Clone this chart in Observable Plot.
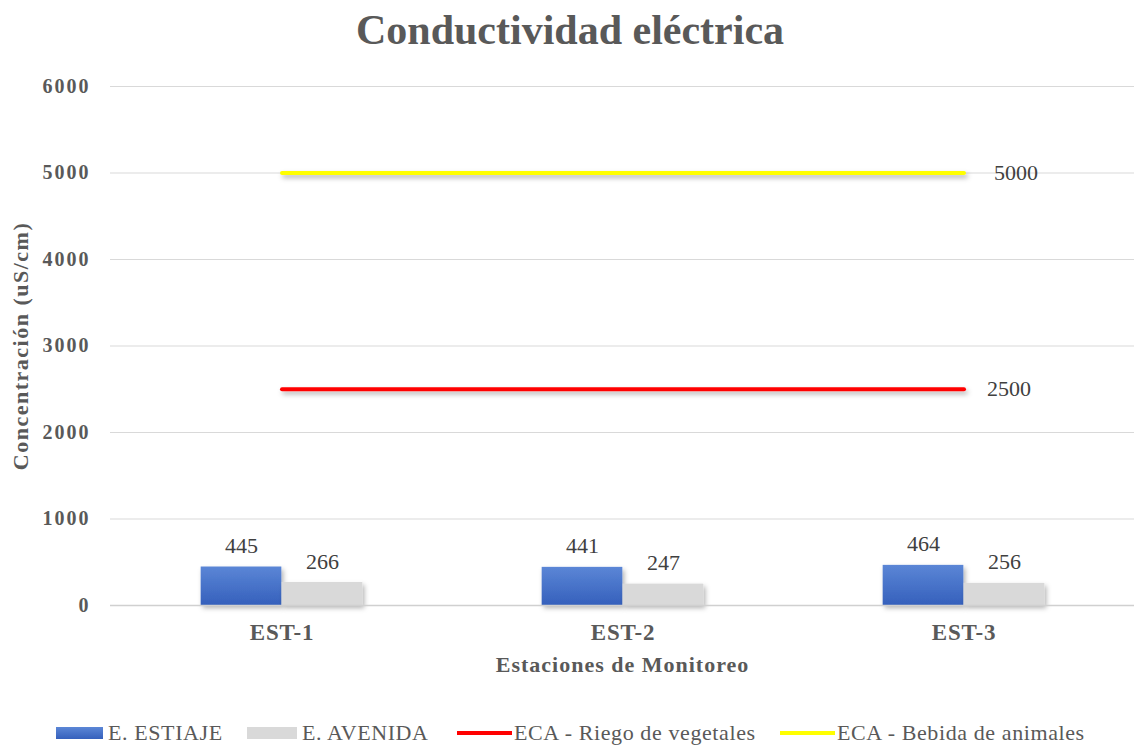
<!DOCTYPE html>
<html><head><meta charset="utf-8">
<script src="https://cdn.jsdelivr.net/npm/d3@7"></script>
<script src="https://cdn.jsdelivr.net/npm/@observablehq/plot@0.6"></script>
<style>
body{margin:0;background:#fff;font-family:"Liberation Serif","Times New Roman",serif;width:1134px;height:745px;overflow:hidden;}
#title{height:62px;line-height:60px;text-align:center;font-size:42px;font-weight:bold;color:#595959;padding-left:6px;}
#chart svg{display:block;}
#chart svg .ytick text{letter-spacing:2px;}
#chart svg .ylabel text{letter-spacing:1.5px;}
#chart svg .xlabel text{letter-spacing:1px;}
#chart svg .xtick text{letter-spacing:0.8px;}
#legend{position:relative;height:43px;font-size:22px;color:#595959;font-family:"Liberation Serif","Times New Roman",serif;}
#legend .sw{position:absolute;}
#legend .lt{position:absolute;top:20px;line-height:22px;white-space:nowrap;letter-spacing:0.6px;}
</style></head><body>
<div id="title">Conductividad eléctrica</div>
<div id="chart"></div>
<div id="legend"></div>
<script>
const stations = ["EST-1", "EST-2", "EST-3"];
const estiaje = [445, 441, 464];
const avenida = [266, 247, 256];
const riego = [2500, 2500, 2500];
const bebida = [5000, 5000, 5000];
const seriesNames = ["E. ESTIAJE", "E. AVENIDA", "ECA - Riego de vegetales", "ECA - Bebida de animales"];
const seriesColors = ["#4472C4", "#D9D9D9", "#FF0000", "#FFFF00"];
const yTicks = [0, 1000, 2000, 3000, 4000, 5000, 6000];

const bars1 = stations.map((s, i) => ({station: s, value: estiaje[i]}));
const bars2 = stations.map((s, i) => ({station: s, value: avenida[i]}));
const line1 = stations.map((s, i) => ({station: s, value: riego[i]}));
const line2 = stations.map((s, i) => ({station: s, value: bebida[i]}));

const W = 1134, H = 640, ML = 110, MR = 0;
const bw = (W - ML - MR) / stations.length;
const barW = 81;
const half = bw / 2;

const chart = Plot.plot({
  width: W,
  height: H,
  marginLeft: ML,
  marginRight: MR,
  marginTop: 24,
  marginBottom: 97,
  style: {fontFamily: "'Liberation Serif','Times New Roman',serif", fontWeight: "bold", color: "#595959", background: "white"},
  x: {domain: stations, padding: 0, label: null},
  y: {domain: [0, 6000], ticks: yTicks, label: null},
  marks: [
    Plot.gridY(yTicks, {stroke: "#d9d9d9", strokeOpacity: 1}),
    Plot.axisY(yTicks, {tickSize: 0, tickPadding: 20, fontSize: 20, fill: "#595959",
      tickFormat: d => String(d), label: null, className: "ytick"}),
    Plot.text(["Concentración (uS/cm)"], {frameAnchor: "left", textAnchor: "middle", dx: -90, rotate: -90,
      fontSize: 22, fontWeight: "bold", fill: "#595959", className: "ylabel"}),
    Plot.axisX({tickSize: 0, tickPadding: 18, fontSize: 23, fill: "#595959", label: null, className: "xtick"}),
    Plot.text(["Estaciones de Monitoreo"], {frameAnchor: "bottom", dy: 66,
      fontSize: 22, fontWeight: "bold", fill: "#595959", className: "xlabel"}),
    Plot.barY(bars1, {x: "station", y: "value", fill: "url(#gblue)",
      insetLeft: half - barW, insetRight: half, className: "shadowed"}),
    Plot.barY(bars2, {x: "station", y: "value", fill: seriesColors[1],
      insetLeft: half, insetRight: half - barW, className: "shadowed"}),
    Plot.ruleY([0], {stroke: "#d0d0d0", strokeWidth: 1.5}),
    Plot.text(bars1, {x: "station", y: "value", text: d => String(d.value), dx: -barW / 2, dy: -21,
      fontSize: 22, fontWeight: "normal", fill: "#404040"}),
    Plot.text(bars2, {x: "station", y: "value", text: d => String(d.value), dx: barW / 2, dy: -21,
      fontSize: 22, fontWeight: "normal", fill: "#404040"}),
    Plot.lineY(line1, {x: "station", y: "value", stroke: seriesColors[2], strokeWidth: 4, className: "shadowed"}),
    Plot.lineY(line2, {x: "station", y: "value", stroke: seriesColors[3], strokeWidth: 4, className: "shadowed"}),
    Plot.text(line1.slice(-1), {x: "station", y: "value", text: d => String(d.value), dx: 23, textAnchor: "start",
      fontSize: 22, fontWeight: "normal", fill: "#404040"}),
    Plot.text(line2.slice(-1), {x: "station", y: "value", text: d => String(d.value), dx: 30, textAnchor: "start",
      fontSize: 22, fontWeight: "normal", fill: "#404040"})
  ]
});

const ns = "http://www.w3.org/2000/svg";
const defs = document.createElementNS(ns, "defs");
defs.innerHTML = `
<linearGradient id="gblue" x1="0" y1="0" x2="0" y2="1">
  <stop offset="0" stop-color="#5B86D6"/>
  <stop offset="1" stop-color="#3560BC"/>
</linearGradient>
<filter id="shadow" filterUnits="userSpaceOnUse" x="0" y="0" width="${W}" height="${H}">
  <feDropShadow dx="2" dy="3" stdDeviation="2.5" flood-color="#000" flood-opacity="0.3"/>
</filter>`;
chart.insertBefore(defs, chart.firstChild);
chart.querySelectorAll(".shadowed").forEach(g => g.setAttribute("filter", "url(#shadow)"));
document.getElementById("chart").appendChild(chart);

// legend (layout positions only)
const legendLayout = [
  {sw: [56, 25, 47, 12], text: 108},
  {sw: [247, 25, 50, 12], text: 302},
  {sw: [457, 29, 55, 4], text: 514},
  {sw: [780, 29, 55, 4], text: 837}
];
const legend = document.getElementById("legend");
seriesNames.forEach((name, i) => {
  const L = legendLayout[i];
  const sw = document.createElement("div");
  sw.className = "sw";
  sw.style.left = L.sw[0] + "px"; sw.style.top = L.sw[1] + "px";
  sw.style.width = L.sw[2] + "px"; sw.style.height = L.sw[3] + "px";
  sw.style.background = i === 0 ? "linear-gradient(#5B86D6,#3560BC)" : seriesColors[i];
  legend.appendChild(sw);
  const t = document.createElement("div");
  t.className = "lt";
  t.style.left = L.text + "px";
  t.textContent = name;
  legend.appendChild(t);
});
</script>
</body></html>
